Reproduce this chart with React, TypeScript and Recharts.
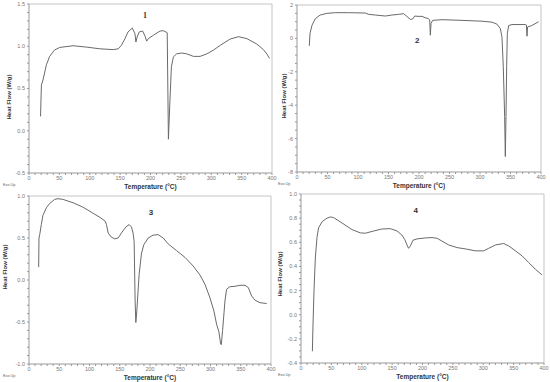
import React from 'react';
import { LineChart, Line, XAxis, YAxis, ReferenceLine, ReferenceDot, Label } from 'recharts';

// ---------- data ----------
const temp1 = [19, 20.4, 23, 28.6, 34, 42, 50.6, 72.6, 94.6, 116.6, 138.7, 147, 152, 158, 163, 170, 174.4, 176, 178, 181.6, 187, 191, 193.7, 196.4, 204.7, 215.7, 221, 225.6, 227.5, 229.5, 232, 234.4, 237.7, 243, 251.5, 259.7, 270.7, 281.7, 292.7, 303.7, 314.7, 331, 345, 358.7, 375, 386, 391.7, 396];
const flow1 = [0.17, 0.54, 0.6, 0.78, 0.88, 0.955, 0.986, 1.006, 0.99, 0.97, 0.96, 0.97, 1.01, 1.09, 1.17, 1.215, 1.15, 1.05, 1.11, 1.17, 1.18, 1.12, 1.06, 1.09, 1.13, 1.18, 1.184, 1.168, 1.16, -0.1, 0.36, 0.757, 0.875, 0.91, 0.92, 0.91, 0.88, 0.88, 0.91, 0.955, 1.01, 1.085, 1.113, 1.09, 1.026, 0.96, 0.907, 0.856];

const temp2 = [20.2, 21.3, 24.6, 30, 38, 49, 62.8, 84.7, 112, 117.5, 128.4, 144.8, 155.7, 166.7, 174.9, 180, 185.8, 189.6, 193, 198.4, 205, 210, 215.8, 217.5, 218.6, 219.7, 222.4, 237.7, 270.5, 303.3, 319.7, 327.9, 333.3, 336, 338.2, 340.4, 341.5, 342.6, 343.7, 344.8, 347, 352.5, 374.3, 376, 377, 378, 385, 396];
const flow2 = [-0.445, 0.29, 0.79, 1.18, 1.4, 1.5, 1.54, 1.54, 1.52, 1.44, 1.4, 1.34, 1.4, 1.44, 1.48, 1.32, 1.14, 1.16, 1.34, 1.32, 1.32, 1.24, 1.18, 1.12, 0.19, 0.89, 1.08, 1.12, 1.08, 1.03, 0.97, 0.85, 0.59, 0.09, -1.7, -4.68, -7.07, -4.68, -1.7, 0.29, 0.77, 0.83, 0.83, 0.81, 0.13, 0.69, 0.77, 1.0];

const temp3 = [16, 16.5, 17.7, 20.4, 23, 28.7, 34, 42.5, 48, 56, 72.8, 89.4, 106, 117, 126, 128, 130.8, 136, 141.8, 147.3, 152.8, 160, 165.5, 169.4, 172, 173.8, 175.4, 176.6, 178.2, 182, 186, 189.8, 197, 205, 213.5, 221.8, 230, 243.9, 257.7, 271.4, 282.5, 290.8, 299, 305.7, 310, 314, 316.7, 317.8, 320, 323.9, 326.6, 332, 340.4, 348.7, 357, 362.5, 368, 373.5, 381.8, 392.8];
const flow3 = [0.154, 0.5, 0.54, 0.66, 0.77, 0.86, 0.91, 0.96, 0.968, 0.96, 0.92, 0.866, 0.794, 0.747, 0.7, 0.66, 0.56, 0.51, 0.49, 0.5, 0.56, 0.63, 0.66, 0.63, 0.56, 0.46, -0.25, -0.506, -0.37, 0.067, 0.32, 0.42, 0.5, 0.534, 0.54, 0.5, 0.43, 0.35, 0.27, 0.166, 0.06, -0.05, -0.21, -0.37, -0.525, -0.62, -0.76, -0.77, -0.6, -0.25, -0.11, -0.08, -0.075, -0.063, -0.063, -0.09, -0.19, -0.24, -0.27, -0.28];

const temp4 = [18.7, 19.8, 21.4, 23.6, 26.3, 29, 34.6, 42.8, 48.3, 53.8, 67.5, 84, 97.7, 106, 117, 133, 147, 158, 166, 170.6, 174.5, 177, 180, 184.4, 191, 204.7, 215.6, 224, 232, 243, 257, 273, 287, 300.7, 309, 320, 333.6, 342, 353, 364, 374.8, 385.7, 396.7];
const flow4 = [-0.303, -0.077, 0.198, 0.47, 0.64, 0.72, 0.77, 0.8, 0.81, 0.804, 0.76, 0.705, 0.678, 0.675, 0.69, 0.71, 0.713, 0.694, 0.66, 0.625, 0.578, 0.55, 0.57, 0.617, 0.628, 0.636, 0.639, 0.633, 0.61, 0.578, 0.556, 0.543, 0.529, 0.529, 0.55, 0.578, 0.59, 0.57, 0.529, 0.487, 0.432, 0.377, 0.33];

const xMajor = [0, 50, 100, 150, 200, 250, 300, 350, 400];
const yMajor1 = [-0.5, 0.0, 0.5, 1.0, 1.5];
const yMajor2 = [-8, -6, -4, -2, 0, 2];
const yMajor3 = [-1.0, -0.5, 0.0, 0.5, 1.0];
const yMajor4 = [-0.4, -0.2, 0.0, 0.2, 0.4, 0.6, 0.8, 1.0];
const panelLabels = ['1', '2', '3', '4'];

// ---------- helpers ----------
const zip = (t: number[], v: number[]) => t.map((x, i) => ({ t: x, v: v[i] }));
const minorTicks = (major: number[], parts: number) => {
  const out: number[] = [];
  for (let i = 0; i < major.length - 1; i++) {
    const step = (major[i + 1] - major[i]) / parts;
    for (let k = 0; k < parts; k++) out.push(+(major[i] + k * step).toFixed(4));
  }
  out.push(major[major.length - 1]);
  return out;
};
const isMajor = (v: number, major: number[]) => major.some((m) => Math.abs(m - v) < 1e-6);

const FONT = '"Liberation Sans", Arial, sans-serif';
const TICK_COLOR = '#777';

const XTick = (props: any) => {
  const { x, y, payload } = props;
  if (!isMajor(payload.value, xMajor)) return <g />;
  return (
    <text x={x} y={y} dy="0.71em" textAnchor="middle" fontSize={5.5} fill={TICK_COLOR} fontFamily={FONT}>
      {String(payload.value)}
    </text>
  );
};

const makeYTick = (major: number[], digits: number) => (props: any) => {
  const { x, y, payload } = props;
  if (!isMajor(payload.value, major)) return <g />;
  return (
    <text x={x} y={y} dy="0.355em" textAnchor="end" fontSize={5.5} fill={TICK_COLOR} fontFamily={FONT}>
      {payload.value.toFixed(digits)}
    </text>
  );
};

type PanelProps = {
  data: { t: number; v: number }[];
  yMajor: number[];
  yParts: number;
  digits: number;
  left: number;
  top: number;
  yWidth: number;
  xHeight: number;
  mTop: number;
  mRight: number;
  yTitleDx: number;
  yTitleDy: number;
  label: string;
  labelX: number;
  labelY: number;
  labelFont: string;
};

const Panel = (p: PanelProps) => {
  const yMin = p.yMajor[0];
  const yMax = p.yMajor[p.yMajor.length - 1];
  const YTick = makeYTick(p.yMajor, p.digits);
  return (
    <div style={{ position: 'absolute', left: p.left, top: p.top, width: 275, height: 191 }}>
      <LineChart width={275} height={191} data={p.data} margin={{ top: p.mTop, right: p.mRight, left: 0, bottom: 0 }}>
        <XAxis
          dataKey="t"
          type="number"
          domain={[0, 400]}
          ticks={minorTicks(xMajor, 5)}
          interval={0}
          tickSize={2}
          tickMargin={1}
          height={p.xHeight}
          stroke="#999"
          tickLine={{ stroke: '#999' }}
          tick={<XTick />}
          allowDataOverflow
        >
          <Label
            content={(lp: any) => {
              const vb = lp.viewBox || {};
              return (
                <g>
                  <text
                    x={vb.x + vb.width / 2}
                    y={vb.y + 15.5}
                    textAnchor="middle"
                    fontSize={6.5}
                    fontWeight="bold"
                    fill="#333"
                    fontFamily={FONT}
                  >
                    Temperature (°C)
                  </text>
                  <text x={3} y={vb.y + 12.5} fontSize={3.8} fill="#666" fontFamily={FONT}>
                    Exo Up
                  </text>
                </g>
              );
            }}
          />
        </XAxis>
        <YAxis
          type="number"
          domain={[yMin, yMax]}
          ticks={minorTicks(p.yMajor, p.yParts)}
          interval={0}
          tickSize={2}
          tickMargin={2}
          width={p.yWidth}
          stroke="#999"
          tickLine={{ stroke: '#999' }}
          tick={<YTick />}
          allowDataOverflow
        >
          <Label
            content={(lp: any) => {
              const vb = lp.viewBox || {};
              const cx = vb.x + p.yTitleDx;
              const cy = vb.y + vb.height / 2 + p.yTitleDy;
              return (
                <text
                  x={cx}
                  y={cy}
                  transform={`rotate(-90, ${cx}, ${cy})`}
                  textAnchor="middle"
                  dominantBaseline="central"
                  fontSize={6}
                  fontWeight="bold"
                  fill="#333"
                  fontFamily={FONT}
                >
                  Heat Flow (W/g)
                </text>
              );
            }}
          />
        </YAxis>
        <ReferenceLine y={yMax} stroke="#c4c4c4" strokeWidth={1} />
        <ReferenceLine x={400} stroke="#c4c4c4" strokeWidth={1} />
        <Line
          type="linear"
          dataKey="v"
          stroke="#6a6a6a"
          strokeWidth={1}
          dot={false}
          isAnimationActive={false}
        />
        <ReferenceDot
          x={p.labelX}
          y={p.labelY}
          r={0}
          fill="none"
          stroke="none"
          label={{
            value: p.label,
            position: 'center',
            fontSize: 8,
            fontWeight: 'bold',
            fill: '#333',
            fontFamily: p.labelFont,
          }}
        />
      </LineChart>
    </div>
  );
};

export default function App() {
  return (
    <div style={{ position: 'absolute', left: 0, top: 0, width: 550, height: 382, background: '#fff' }}>
      <style>{'svg.recharts-surface { overflow: visible; }'}</style>
      <Panel
        data={zip(temp1, flow1)}
        yMajor={yMajor1}
        yParts={5}
        digits={1}
        left={0}
        top={0}
        yWidth={29}
        xHeight={18}
        mTop={4}
        mRight={3}
        yTitleDx={9}
        yTitleDy={8.5}
        label={panelLabels[0]}
        labelX={191}
        labelY={1.37}
        labelFont='"Liberation Serif", "Times New Roman", serif'
      />
      <Panel
        data={zip(temp2, flow2)}
        yMajor={yMajor2}
        yParts={4}
        digits={0}
        left={275}
        top={0}
        yWidth={22}
        xHeight={19}
        mTop={5}
        mRight={9}
        yTitleDx={9}
        yTitleDy={7.5}
        label={panelLabels[1]}
        labelX={197}
        labelY={-0.1}
        labelFont={FONT}
      />
      <Panel
        data={zip(temp3, flow3)}
        yMajor={yMajor3}
        yParts={5}
        digits={1}
        left={0}
        top={191}
        yWidth={29}
        xHeight={18}
        mTop={5}
        mRight={4}
        yTitleDx={5}
        yTitleDy={-13}
        label={panelLabels[2]}
        labelX={201.6}
        labelY={0.81}
        labelFont={FONT}
      />
      <Panel
        data={zip(temp4, flow4)}
        yMajor={yMajor4}
        yParts={4}
        digits={1}
        left={275}
        top={191}
        yWidth={26}
        xHeight={19}
        mTop={3}
        mRight={6}
        yTitleDx={4.5}
        yTitleDy={-4.5}
        label={panelLabels[3]}
        labelX={189}
        labelY={0.867}
        labelFont={FONT}
      />
    </div>
  );
}
